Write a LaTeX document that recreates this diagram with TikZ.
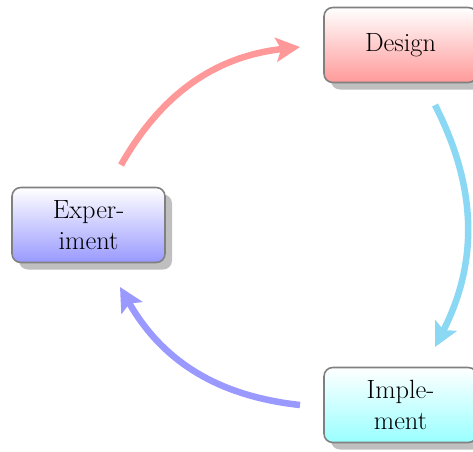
\documentclass[tikz,border=0pt]{standalone}
\usetikzlibrary{positioning,arrows.meta,shadows,calc}
\definecolor{loopA}{HTML}{FF9999}
\definecolor{loopB}{HTML}{8AD8F4}
\definecolor{loopC}{HTML}{9999FF}
\tikzset{
  stage/.style ={rectangle, rounded corners=5pt, draw=black!50, line width=0.9pt,
                 minimum width=3.06cm, minimum height=1.5cm, align=center,
                 font=\fontsize{15}{18}\selectfont,
                 drop shadow={shadow xshift=0.14cm, shadow yshift=-0.14cm,
                              fill=black!25, opacity=1}},
  redst/.style ={stage, top color=white, bottom color=red!40},
  cyanst/.style={stage, top color=white, bottom color=cyan!40},
  bluest/.style={stage, top color=white, bottom color=blue!40},
  % one thick curved step of the cycle
  flow/.style  ={line width=0.13cm,
                 -{Stealth[length=0.48cm,width=0.48cm,inset=0.1cm]}},
}
\begin{document}
\begin{tikzpicture}
  \useasboundingbox (0,0) rectangle (9.46,9.02);
  \node[redst]  (design) at (8.01,8.12) {Design};
  \node[bluest] (exper)  at (1.77,4.52) {Exper-\\iment};
  \node[cyanst] (impl)   at (8.01,0.92) {Imple-\\ment};
  % free ends of the arrows
  \coordinate (a1) at (2.42,5.72);  \coordinate (a2) at (6.00,8.08);
  \coordinate (b1) at (8.70,6.92);  \coordinate (b2) at (8.70,2.08);
  \coordinate (c1) at (6.00,0.92);  \coordinate (c2) at (2.40,3.28);
  \draw[flow, draw=loopA] (a1) to[bend left=27] (a2);
  \draw[flow, draw=loopB] (b1) to[bend left=27] (b2);
  \draw[flow, draw=loopC] (c1) to[bend left=27] (c2);
\end{tikzpicture}
\end{document}
